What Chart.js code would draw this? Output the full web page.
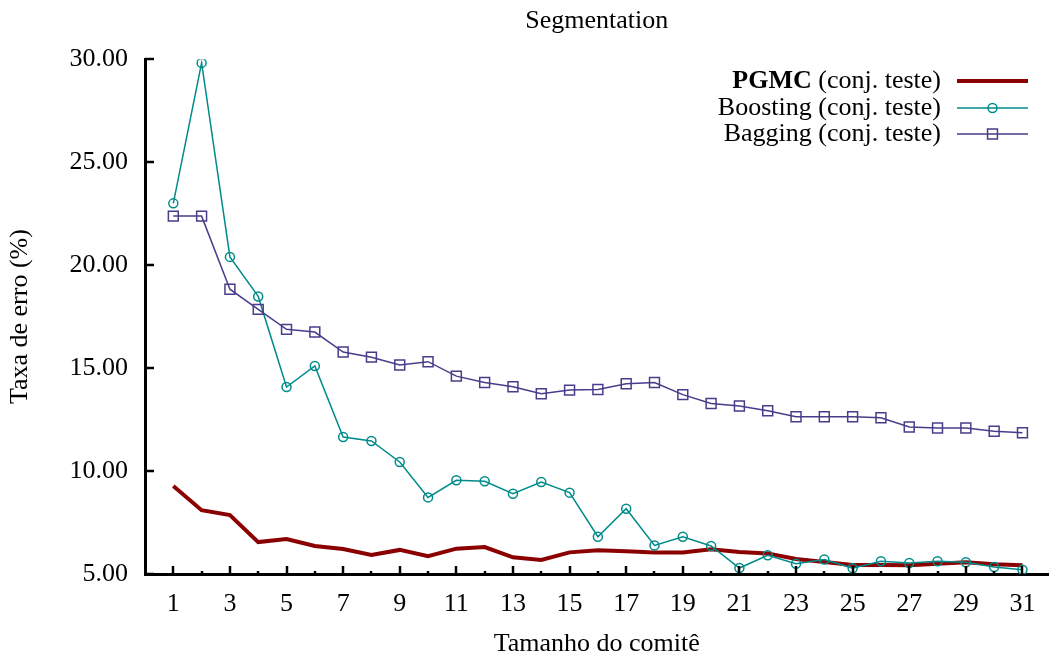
<!DOCTYPE html>
<html>
<head>
<meta charset="utf-8">
<script src="https://cdn.jsdelivr.net/npm/chart.js@4/dist/chart.umd.min.js"></script>
<style>
html,body{margin:0;padding:0;background:#fff;}
#wrap{width:1057px;height:658px;}
</style>
</head>
<body>
<div id="wrap"><canvas id="c" width="1057" height="658"></canvas></div>
<script>
const committeeSizes = [1,2,3,4,5,6,7,8,9,10,11,12,13,14,15,16,17,18,19,20,21,22,23,24,25,26,27,28,29,30,31];
const pgmcValues = [9.27,8.10,7.86,6.55,6.70,6.36,6.21,5.92,6.17,5.87,6.23,6.31,5.81,5.68,6.05,6.15,6.10,6.05,6.05,6.20,6.07,6.00,5.73,5.58,5.44,5.44,5.42,5.50,5.57,5.47,5.42];
const boostingValues = [23.00,29.82,20.40,18.48,14.08,15.10,11.65,11.46,10.44,8.72,9.55,9.50,8.90,9.47,8.95,6.81,8.17,6.39,6.81,6.36,5.29,5.91,5.50,5.70,5.28,5.62,5.53,5.62,5.57,5.34,5.21];
const baggingValues = [22.38,22.38,18.83,17.85,16.88,16.75,15.78,15.53,15.15,15.31,14.61,14.30,14.09,13.75,13.93,13.96,14.24,14.30,13.71,13.28,13.16,12.93,12.64,12.64,12.64,12.59,12.14,12.09,12.09,11.93,11.86];
const yTickValues = [5,10,15,20,25,30];
const seriesLabels = ['PGMC', 'Boosting', 'Bagging'];
const labelSuffix = ' (conj. teste)';

const FONT = '"Liberation Serif", "DejaVu Serif", serif';
const FS = 26;
const RED = '#8b0000', TEAL = '#008b8b', PURPLE = '#483d8b';

function pts(vals){ return vals.map((v,i)=>({x: committeeSizes[i], y: v})); }

const innerTicks = {
  id: 'innerTicks',
  afterDraw(chart){
    const ctx = chart.ctx, a = chart.chartArea;
    const xs = chart.scales.x, ys = chart.scales.y;
    ctx.save();
    ctx.strokeStyle = '#000';
    ctx.lineWidth = 2.5;
    committeeSizes.forEach(v=>{
      const px = Math.round(xs.getPixelForValue(v));
      const len = (v % 2 === 1) ? 8 : 3;
      ctx.beginPath(); ctx.moveTo(px, a.bottom); ctx.lineTo(px, a.bottom - len); ctx.stroke();
    });
    yTickValues.forEach(v=>{
      const py = Math.round(ys.getPixelForValue(v));
      ctx.beginPath(); ctx.moveTo(a.left, py); ctx.lineTo(a.left + 9, py); ctx.stroke();
    });
    ctx.restore();
  }
};

const customLegend = {
  id: 'customLegend',
  afterDraw(chart){
    const ctx = chart.ctx;
    const rows = [81, 108, 134];
    const textRight = 941, lineX0 = 957, lineX1 = 1028;
    ctx.save();
    ctx.textBaseline = 'middle';
    chart.data.datasets.forEach((ds, i)=>{
      const y = rows[i];
      ctx.fillStyle = '#000';
      ctx.font = FS + 'px ' + FONT;
      const sw = ctx.measureText(labelSuffix).width;
      ctx.textAlign = 'right';
      ctx.fillText(labelSuffix, textRight, y);
      ctx.font = (i === 0 ? 'bold ' : '') + FS + 'px ' + FONT;
      ctx.fillText(seriesLabels[i], textRight - sw, y);
      ctx.strokeStyle = ds.borderColor;
      ctx.lineWidth = ds.borderWidth;
      ctx.beginPath(); ctx.moveTo(lineX0, y); ctx.lineTo(lineX1, y); ctx.stroke();
      if (ds.pointRadius > 0) {
        const cx = (lineX0 + lineX1) / 2;
        ctx.lineWidth = ds.pointBorderWidth;
        ctx.beginPath();
        if (ds.pointStyle === 'circle') {
          ctx.arc(cx, y, ds.pointRadius, 0, Math.PI*2);
        } else {
          const s = Math.SQRT1_2 * ds.pointRadius;
          ctx.rect(cx - s, y - s, 2*s, 2*s);
        }
        ctx.stroke();
      }
    });
    ctx.restore();
  }
};

new Chart(document.getElementById('c'), {
  type: 'line',
  data: {
    datasets: [
      { label: seriesLabels[0], data: pts(pgmcValues), borderColor: RED, borderWidth: 4, pointRadius: 0, fill: false, tension: 0, order: 3 },
      { label: seriesLabels[1], data: pts(boostingValues), borderColor: TEAL, borderWidth: 1.5, pointStyle: 'circle', pointRadius: 4.5, pointBorderWidth: 1.5, pointBorderColor: TEAL, pointBackgroundColor: 'rgba(0,0,0,0)', fill: false, tension: 0, order: 2 },
      { label: seriesLabels[2], data: pts(baggingValues), borderColor: PURPLE, borderWidth: 1.5, pointStyle: 'rect', pointRadius: 7, pointBorderWidth: 1.5, pointBorderColor: PURPLE, pointBackgroundColor: 'rgba(0,0,0,0)', fill: false, tension: 0, order: 1 }
    ]
  },
  options: {
    responsive: false,
    animation: false,
    events: [],
    layout: { padding: 0 },
    plugins: {
      legend: { display: false },
      tooltip: { enabled: false },
      title: {
        display: true,
        text: 'Segmentation',
        fullSize: false,
        color: '#000',
        font: { family: FONT, size: FS, weight: 'normal' },
        padding: { top: 6, bottom: 22 }
      }
    },
    scales: {
      x: {
        type: 'linear',
        min: 0,
        max: 31.92,
        afterBuildTicks(scale){ scale.ticks = committeeSizes.map(v=>({value: v})); },
        afterFit(scale){ scale.height = 84; },
        grid: { display: false, drawTicks: false },
        border: { display: true, color: '#000', width: 3 },
        ticks: {
          autoSkip: false, maxRotation: 0, color: '#000', padding: 15,
          font: { family: FONT, size: FS },
          callback: (v)=> (v % 2 === 1 ? String(v) : '')
        },
        title: { display: true, text: 'Tamanho do comitê', color: '#000', font: { family: FONT, size: FS }, padding: { top: 0, bottom: -2 } }
      },
      y: {
        type: 'linear',
        min: 5,
        max: 30,
        afterBuildTicks(scale){ scale.ticks = yTickValues.map(v=>({value: v})); },
        afterFit(scale){ scale.width = 145; },
        grid: { display: false, drawTicks: false },
        border: { display: true, color: '#000', width: 3 },
        ticks: {
          color: '#000', padding: 17,
          font: { family: FONT, size: FS },
          callback: (v)=> Number(v).toFixed(2)
        },
        title: { display: true, text: 'Taxa de erro (%)', color: '#000', font: { family: FONT, size: FS }, padding: { top: 5, bottom: 0 } }
      }
    }
  },
  plugins: [innerTicks, customLegend]
});
</script>
</body>
</html>
